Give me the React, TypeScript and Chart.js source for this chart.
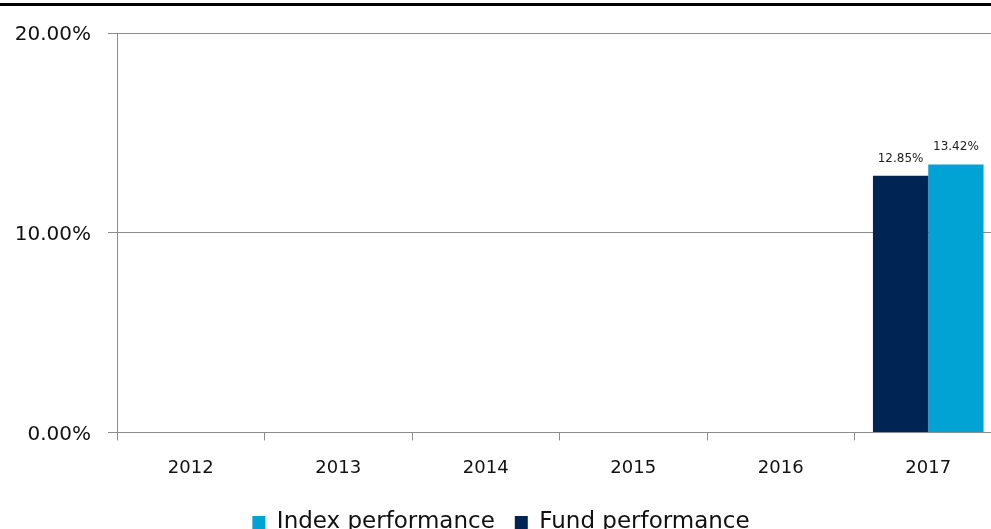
import React, { useEffect, useRef } from "react";
import { Chart, registerables } from "chart.js";
Chart.register(...registerables);

const categories = ["2012", "2013", "2014", "2015", "2016", "2017"];
const fundValues = [null, null, null, null, null, 12.85];
const indexValues = [null, null, null, null, null, 13.42];
const yTicks = [0, 10, 20];

const FONT = "'DejaVu Sans', sans-serif";

const topLine = {
  id: "topLine",
  afterDraw(chart: any) {
    const ctx = chart.ctx;
    ctx.save();
    ctx.fillStyle = "#000";
    ctx.fillRect(0, 3, chart.width, 3);
    ctx.restore();
  },
};

const valueLabels = {
  id: "valueLabels",
  afterDatasetsDraw(chart: any) {
    const ctx = chart.ctx;
    ctx.save();
    ctx.font = `12px ${FONT}`;
    ctx.fillStyle = "#222";
    ctx.textAlign = "center";
    ctx.textBaseline = "alphabetic";
    chart.data.datasets.forEach((ds: any, i: number) => {
      const meta = chart.getDatasetMeta(i);
      meta.data.forEach((el: any, j: number) => {
        const v = ds.data[j];
        if (v == null) return;
        ctx.fillText(v.toFixed(2) + "%", el.x, el.y - 14);
      });
    });
    ctx.restore();
  },
};

export default function App() {
  const ref = useRef<HTMLCanvasElement>(null);
  useEffect(() => {
    document.body.style.margin = "0";
    document.body.style.overflow = "hidden";
    const chart = new Chart(ref.current!, {
      type: "bar",
      data: {
        labels: categories,
        datasets: [
          { label: "Fund performance", data: fundValues, backgroundColor: "#002554", categoryPercentage: 0.75, barPercentage: 1 },
          { label: "Index performance", data: indexValues, backgroundColor: "#00A3D4", categoryPercentage: 0.75, barPercentage: 1 },
        ],
      },
      options: {
        animation: false,
        responsive: false,
        maintainAspectRatio: false,
        layout: { padding: { top: 33, left: 0, right: 0, bottom: 0 } },
        plugins: {
          tooltip: { enabled: false },
          legend: {
            position: "bottom",
            reverse: true,
            labels: {
              boxWidth: 13,
              boxHeight: 13,
              padding: 20,
              color: "#111",
              font: { family: FONT, size: 23 },
            },
          },
        },
        scales: {
          x: {
            afterFit(scale: any) { scale.height -= 5; },
            grid: { drawOnChartArea: false, color: "#8c8c8c", tickLength: 8, offset: true },
            border: { color: "#8c8c8c", width: 1 },
            ticks: { color: "#111", font: { family: FONT, size: 18 }, padding: 17 },
          },
          y: {
            min: 0,
            max: 20,
            afterFit(scale: any) { scale.width = 117; },
            afterBuildTicks(scale: any) { scale.ticks = yTicks.map((v) => ({ value: v })); },
            grid: { color: "#8c8c8c", tickLength: 9 },
            border: { color: "#8c8c8c", width: 1 },
            ticks: {
              color: "#111",
              font: { family: FONT, size: 20 },
              padding: 17,
              labelOffset: 2,
              callback: (v: any) => Number(v).toFixed(2) + "%",
            },
          },
        },
      },
      plugins: [topLine, valueLabels],
    });
    return () => chart.destroy();
  }, []);
  return (
    <div style={{ position: "fixed", left: 0, top: 0, width: 991, height: 529, overflow: "hidden" }}>
      <canvas ref={ref} width={1002} height={544} style={{ display: "block" }} />
    </div>
  );
}
